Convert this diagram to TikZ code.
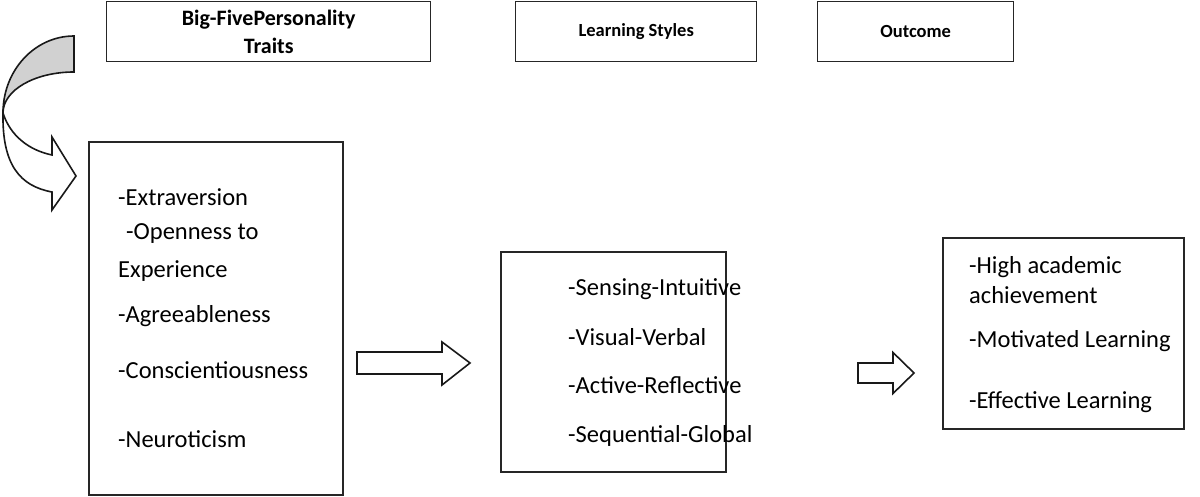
\documentclass[tikz,border=0pt]{standalone}
\usepackage{fontspec}
\setmainfont{Carlito}
\tikzstyle{head}=[rectangle,draw=black!85,line width=1.4pt,inner sep=0pt,anchor=north west,
font=\fontsize{18.5}{28}\selectfont\bfseries,align=center]
\tikzstyle{panel}=[rectangle,draw=black!85,line width=1.8pt,inner sep=0pt,anchor=north west]
\tikzstyle{item}=[anchor=base west,inner sep=0pt,font=\fontsize{24.5}{29}\selectfont]
\tikzstyle{blockarrow}=[draw=black!90,line width=1.6pt,fill=white,line join=miter]
\usetikzlibrary{positioning}

\begin{document}
\begin{tikzpicture}[x=1pt,y=-1pt]
            \useasboundingbox (0,0) rectangle (1200,497);

            % HEADERS

            \node[head,minimum width=324pt,minimum height=60pt,font=\fontsize{22}{28}\selectfont\bfseries] (h1) at (106,1) {Big-FivePersonality\\Traits};
            \node[head,minimum width=241pt,minimum height=60pt] (h2) at (515,1) {Learning Styles};
            \node[head,minimum width=196pt,minimum height=60pt] (h3) at (817,1) {Outcome};

            % BOXES

            \node[panel,minimum width=254pt,minimum height=353pt] (b1) at (88,141) {};
            \node[panel,minimum width=225pt,minimum height=220pt] (b2) at (500,251) {};
            \node[panel,minimum width=241pt,minimum height=191pt] (b3) at (942,237) {};

            % Traits
            \node[item] (i1) at (118,206) {-Extraversion};
            \node[item] (i2) at (126,240) {-Openness to};
            \node[item] (i3) at (118,277) {Experience};
            \node[item] (i4) at (118,323) {-Agreeableness};
            \node[item] (i5) at (118,378) {-Conscientiousness};
            \node[item] (i6) at (118,447) {-Neuroticism};

            % Styles
            \node[item] (s1) at (568,295) {-Sensing-Intuitive};
            \node[item] (s2) at (568,345) {-Visual-Verbal};
            \node[item] (s3) at (568,393) {-Active-Reflective};
            \node[item] (s4) at (568,442) {-Sequential-Global};

            % Outcome
            \node[item] (o1) at (969,273) {-High academic};
            \node[item] (o2) at (969,303) {achievement};
            \node[item] (o3) at (969,347) {-Motivated Learning};
            \node[item] (o4) at (969,408) {-Effective Learning};

            % ARROWS

            \draw[blockarrow,fill=black!18] (74,36) .. controls (35,36) and (3,70) .. (3,113)
                .. controls (3,90) and (35,72) .. (74,72) -- cycle;
            \draw[blockarrow] (3,113) .. controls (2,165) and (20,186) .. (52,192) -- (52,210)
                -- (76,176) -- (52,137) -- (52,155) .. controls (28,150) and (10,135) .. (3,113) -- cycle;

            \coordinate (a1) at (357,363);
            \coordinate (a2) at (858,373);
            \draw[blockarrow] (a1) ++(0,-11) -- ++(85,0) -- ++(0,-10) -- ++(28,21)
                -- ++(-28,22) -- ++(0,-11) -- ++(-85,0) -- cycle;
            \draw[blockarrow] (a2) ++(0,-10) -- ++(35,0) -- ++(0,-10.5) -- ++(21,20.5)
                -- ++(-21,20.5) -- ++(0,-10.5) -- ++(-35,0) -- cycle;

        \end{tikzpicture}
\end{document}
